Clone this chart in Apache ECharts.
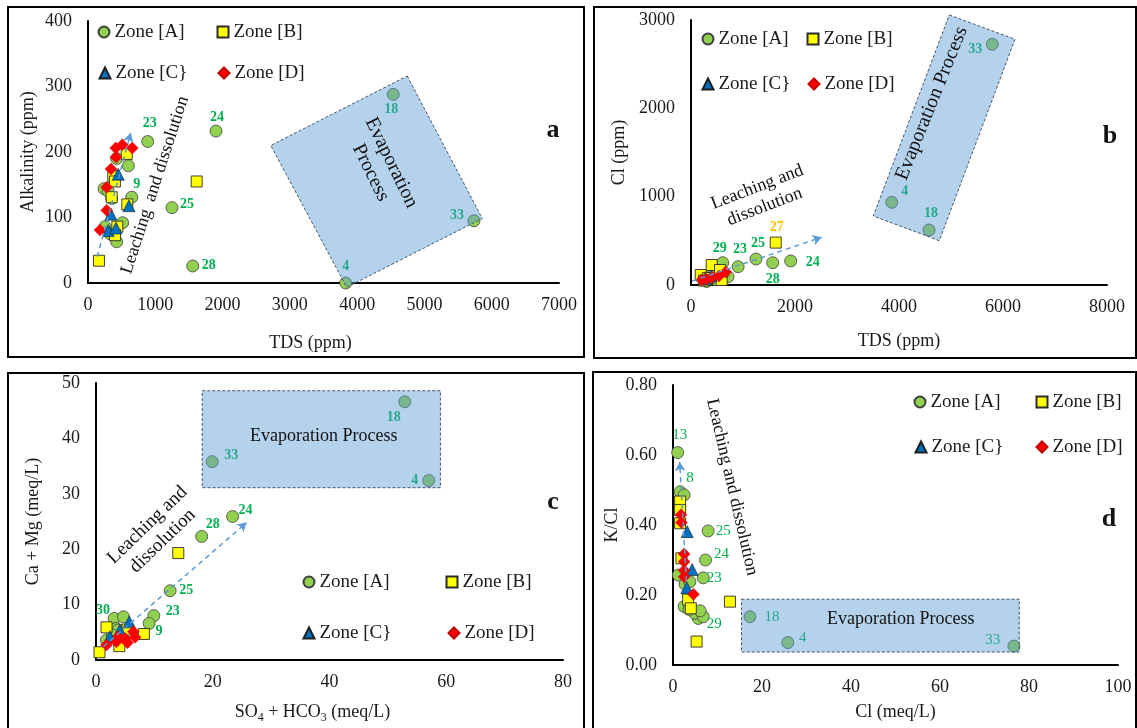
<!DOCTYPE html>
<html>
<head>
<meta charset="utf-8">
<script src="https://cdn.jsdelivr.net/npm/echarts@6/dist/echarts.min.js"></script>
<style>
  html, body { margin: 0; padding: 0; background: #fff; }
  #chart { width: 1137px; height: 728px; }
</style>
</head>
<body>
<div id="chart"></div>
<script>
// ---------- data ----------
const ZONES = ['Zone [A]', 'Zone [B]', 'Zone [C}', 'Zone [D]'];

// (a) TDS (ppm) vs Alkalinity (ppm); third entry = sample number shown on the chart
const alkZoneA = [[887,216,'23'],[1902,232,'24'],[650,131,'9'],[1248,115,'25'],[1556,26,'28'],
  [4537,288,'18'],[5736,95,'33'],[3830,0,'4'],
  [600,179],[426,190],[238,144],[352,129],[515,92],[426,63],[253,86],[330,75],[300,140]];
const alkZoneB = [[163,34],[1615,155],[575,197],[376,163],[400,155],[352,131],[584,120],[436,86],[401,73]];
const alkZoneC = [[450,166],[340,105],[609,118],[302,80],[416,84]];
const alkZoneD = [[178,81],[278,111],[278,146],[342,174],[416,192],[412,206],[510,211],[658,206]];

// (b) TDS (ppm) vs Cl (ppm)
const clZoneA = [[610,252,'29'],[906,207,'23'],[1250,294,'25'],[1571,252,'28'],[1917,272,'24'],
  [3860,936,'4'],[4577,623,'18'],[5794,2725,'33'],
  [712,94],[480,60],[300,40],[620,130],[400,110]];
const clZoneB = [[1629,480,'27'],[398,226],[187,113],[558,170],[590,57],[330,80],[250,50]];
const clZoneC = [[385,102],[269,68]];
const clZoneD = [[206,57],[302,65],[410,87],[538,102],[667,147]];

// (c) SO4 + HCO3 (meq/L) vs Ca + Mg (meq/L)
const caMgZoneA = [[19.9,35.8,'33'],[23.4,25.9,'24'],[18.1,22.3,'28'],[12.7,12.5,'25'],[9.9,8.0,'23'],
  [9.1,6.6,'9'],[3.1,7.5,'30'],[52.9,46.6,'18'],[57.0,32.4,'4'],
  [4.7,7.8],[1.8,3.6],[3.5,5.7],[3.8,5.4],[2.8,4.5]];
const caMgZoneB = [[14.1,19.3],[0.6,1.4],[1.8,5.9],[8.2,4.7],[4.0,2.5],[5.4,5.5]];
const caMgZoneC = [[5.7,6.9],[4.1,5.4],[2.4,4.2]];
const caMgZoneD = [[1.8,2.7],[3.5,3.3],[3.8,4.2],[5.0,3.9],[5.4,3.1],[6.4,5.1],[6.7,4.1]];

// (d) Cl (meq/L) vs K/Cl
const kClZoneA = [[1.05,0.607,'13'],[1.6,0.495,'8'],[7.9,0.383,'25'],[7.3,0.300,'24'],[6.8,0.249,'23'],
  [5.7,0.133,'29'],[17.3,0.138,'18'],[25.8,0.064,'4'],[76.6,0.054,'33'],
  [2.5,0.486],[4.9,0.148],[6.8,0.138],[6.1,0.155],[2.5,0.167],[3.6,0.159],[1.2,0.257],[2.7,0.231],[3.8,0.238]];
const kClZoneB = [[12.8,0.181],[5.3,0.067],[1.6,0.467],[1.6,0.443],[1.6,0.405],[1.9,0.305],[3.4,0.187],[4.0,0.162]];
const kClZoneC = [[3.2,0.381],[4.3,0.273],[3.1,0.221]];
const kClZoneD = [[1.8,0.429],[1.9,0.407],[2.5,0.317],[2.5,0.295],[2.5,0.270],[2.5,0.252],[4.6,0.202]];

// axis ranges and tick steps
const xTicksA = {min: 0, max: 7000, interval: 1000};
const yTicksA = {min: 0, max: 400, interval: 100};
const xTicksB = {min: 0, max: 8000, interval: 2000};
const yTicksB = {min: 0, max: 3000, interval: 1000};
const xTicksC = {min: 0, max: 80, interval: 20};
const yTicksC = {min: 0, max: 50, interval: 10};
const xTicksD = {min: 0, max: 100, interval: 20};
const yTicksD = {min: 0, max: 0.8, interval: 0.2};

// process annotations in data coordinates
const evapBoxA = [[4744,316],[5860,98.6],[3845,-6.5],[2716,210]];
const evapBoxB = [[4967,3057],[6231,2782],[4775,502],[3506,781]];
const evapBoxC = [[18.2,48.6],[59.0,48.6],[59.0,31.1],[18.2,31.1]];
const evapBoxD = [[15.4,0.188],[77.8,0.188],[77.8,0.037],[15.4,0.037]];
const evapTextA = [4354,176];
const evapTextB = [4629,2057];
const evapTextC = [39.0,40.4];
const evapTextD = [51.2,0.131];
const leachArrowA = [[138,40],[634,229]];
const leachArrowB = [[20,45],[2513,540]];
const leachArrowC = [[1.25,2.4],[25.8,24.8]];
const leachArrowD = [[3.0,0.24],[1.5,0.58]];

// ---------- styling ----------
const SERIF = '"Liberation Serif", "Times New Roman", serif';
const INK = '#1a1a1a';
const ZONE_STYLE = {
  'Zone [A]': {symbol: 'circle', size: 12, color: '#92D050', border: '#3f3f3f', bw: 0.8, icon: 'circle'},
  'Zone [B]': {symbol: 'rect', size: 11, color: '#FFFF00', border: '#2b2b2b', bw: 0.9, icon: 'rect'},
  'Zone [C}': {symbol: 'triangle', size: 12, color: '#0070C0', border: '#1f1f1f', bw: 0.6, icon: 'triangle'},
  'Zone [D]': {symbol: 'diamond', size: 12, color: '#FF0000', border: '#c00000', bw: 0.4, icon: 'diamond'}
};

// label offsets (px, from the marker centre)
const labelOffsetA = {'23':[2,-18],'24':[1,-14],'9':[5,-13],'25':[15,-3],'28':[16,-1],'18':[-2,15],'33':[-17,-5],'4':[0,-17]};
const labelOffsetB = {'29':[-3,-14],'23':[2,-17],'25':[2,-16],'28':[0,17],'24':[22,1],'27':[1,-15],'4':[13,-11],'18':[2,-17],'33':[-17,5]};
const labelOffsetC = {'30':[-11,-8],'23':[19,-4],'9':[10,8],'25':[16,0],'28':[11,-12],'24':[13,-6],'33':[19,-6],'18':[-11,16],'4':[-14,0]};
const labelOffsetD = {'13':[2,-17],'8':[10,-14],'25':[15,0],'24':[16,-6],'23':[11,0],'29':[16,6],'18':[22,0],'4':[15,-5],'33':[-21,-6]};

const boldLabel = {fontFamily: SERIF, fontSize: 14, fontWeight: 'bold', color: '#00B050'};
const plainLabel = {fontFamily: SERIF, fontSize: 15, fontWeight: 'normal', color: '#00B050'};

function zoneSeries(name, pts, gi, offsets, lblStyle, lblColor) {
  const st = ZONE_STYLE[name];
  return {
    type: 'scatter', name: name, xAxisIndex: gi, yAxisIndex: gi, z: 3,
    symbol: st.symbol, symbolSize: st.size,
    itemStyle: {color: st.color, borderColor: st.border, borderWidth: st.bw, opacity: 1},
    emphasis: {disabled: true},
    data: pts.map(p => {
      const item = {value: [p[0], p[1]]};
      if (p[2]) {
        item.label = Object.assign({}, lblStyle, {
          show: true, formatter: p[2], position: 'inside', offset: offsets[p[2]] || [0, -14]
        }, lblColor ? {color: lblColor} : {});
      }
      return item;
    })
  };
}

function boxSeries(gi, corners, textAt, text, rotDeg, fontSize) {
  return {
    type: 'custom', xAxisIndex: gi, yAxisIndex: gi, z: 5, silent: true, clip: false,
    data: [[corners[0][0], corners[0][1]]],
    encode: {x: 0, y: 1},
    renderItem: function (params, api) {
      const pts = corners.map(c => api.coord(c));
      const tp = api.coord(textAt);
      return {
        type: 'group',
        children: [
          {type: 'polygon', shape: {points: pts},
           style: {fill: 'rgba(91,155,213,0.45)', stroke: '#44546A', lineWidth: 1, lineDash: [3, 2]}},
          {type: 'text', x: tp[0], y: tp[1], rotation: rotDeg * Math.PI / 180,
           style: {text: text, font: fontSize + 'px ' + SERIF, fill: '#111', lineHeight: fontSize + 3,
                   align: 'center', verticalAlign: 'middle', textAlign: 'center', textVerticalAlign: 'middle'}}
        ]
      };
    }
  };
}

function arrowSeries(gi, seg) {
  return {
    type: 'scatter', xAxisIndex: gi, yAxisIndex: gi, z: 4, silent: true, data: [],
    markLine: {
      silent: true, animation: false, symbol: ['none', 'arrow'], symbolSize: [8, 9],
      label: {show: false},
      lineStyle: {color: '#5B9BD5', type: [5, 4], width: 1.5},
      emphasis: {disabled: true},
      data: [[{coord: seg[0]}, {coord: seg[1]}]]
    }
  };
}

function valueAxis(gi, ticks, isX, extra) {
  return Object.assign({
    type: 'value', gridIndex: gi, min: ticks.min, max: ticks.max, interval: ticks.interval,
    axisLine: {show: true, onZero: false, lineStyle: {color: '#000', width: 2}},
    axisTick: {show: false},
    splitLine: {show: false},
    axisLabel: {color: INK, fontFamily: SERIF, fontSize: 18, margin: isX ? 13 : 16,
                formatter: v => String(v)},
    nameLocation: 'middle',
    nameTextStyle: {color: INK, fontFamily: SERIF, fontSize: 18}
  }, extra);
}

// legend positions: marker centre of each item, per panel
const legendSpots = [
  [[103,32],[222,32],[104,73],[223,73]],
  [[707,39],[812,39],[707,84],[813,84]],
  [[308,582],[451,582],[308,633],[453,633]],
  [[919,402],[1041,402],[920,447],[1041,447]]
];
const legends = [];
legendSpots.forEach(spots => {
  spots.forEach((s, k) => {
    legends.push({
      left: s[0] - 5.5, top: s[1] - 10, padding: 0, itemGap: 0,
      itemWidth: 11, itemHeight: 11, selectedMode: false,
      data: [{name: ZONES[k], icon: ZONE_STYLE[ZONES[k]].icon}],
      textStyle: {fontFamily: SERIF, fontSize: 19, color: INK, lineHeight: 20}
    });
  });
});

const series = [
  zoneSeries(ZONES[0], alkZoneA, 0, labelOffsetA, boldLabel),
  zoneSeries(ZONES[1], alkZoneB, 0, labelOffsetA, boldLabel),
  zoneSeries(ZONES[2], alkZoneC, 0, labelOffsetA, boldLabel),
  zoneSeries(ZONES[3], alkZoneD, 0, labelOffsetA, boldLabel),
  zoneSeries(ZONES[0], clZoneA, 1, labelOffsetB, boldLabel),
  zoneSeries(ZONES[1], clZoneB, 1, labelOffsetB, boldLabel, '#FFC000'),
  zoneSeries(ZONES[2], clZoneC, 1, labelOffsetB, boldLabel),
  zoneSeries(ZONES[3], clZoneD, 1, labelOffsetB, boldLabel),
  zoneSeries(ZONES[0], caMgZoneA, 2, labelOffsetC, boldLabel),
  zoneSeries(ZONES[1], caMgZoneB, 2, labelOffsetC, boldLabel),
  zoneSeries(ZONES[2], caMgZoneC, 2, labelOffsetC, boldLabel),
  zoneSeries(ZONES[3], caMgZoneD, 2, labelOffsetC, boldLabel),
  zoneSeries(ZONES[0], kClZoneA, 3, labelOffsetD, plainLabel),
  zoneSeries(ZONES[1], kClZoneB, 3, labelOffsetD, plainLabel),
  zoneSeries(ZONES[2], kClZoneC, 3, labelOffsetD, plainLabel),
  zoneSeries(ZONES[3], kClZoneD, 3, labelOffsetD, plainLabel),
  boxSeries(0, evapBoxA, evapTextA, 'Evaporation\nProcess', -64, 20),
  boxSeries(1, evapBoxB, evapTextB, 'Evaporation Process', 68, 20),
  boxSeries(2, evapBoxC, evapTextC, 'Evaporation Process', 0, 18),
  boxSeries(3, evapBoxD, evapTextD, 'Evaporation Process', 0, 18),
  arrowSeries(0, leachArrowA),
  arrowSeries(1, leachArrowB),
  arrowSeries(2, leachArrowC),
  arrowSeries(3, leachArrowD)
];

function note(x, y, text, rotDeg, size, weight) {
  return {
    type: 'text', x: x, y: y, z: 50, rotation: (rotDeg || 0) * Math.PI / 180, silent: true,
    style: {text: text, font: (weight || 'normal') + ' ' + size + 'px ' + SERIF, fill: '#111',
            lineHeight: size + 3, align: 'center', verticalAlign: 'middle',
            textAlign: 'center', textVerticalAlign: 'middle'}
  };
}
function frame(x, y, w, h) {
  return {type: 'rect', z: 40, silent: true, shape: {x: x, y: y, width: w, height: h},
          style: {fill: 'none', stroke: '#000', lineWidth: 2}};
}

const option = {
  animation: false,
  backgroundColor: '#fff',
  grid: [
    {left: 88, top: 21, width: 471, height: 262},
    {left: 691, top: 20, width: 416, height: 265},
    {left: 96, top: 383, width: 467, height: 277},
    {left: 673, top: 385, width: 445, height: 280}
  ],
  xAxis: [
    valueAxis(0, xTicksA, true, {name: 'TDS (ppm)', nameGap: 51,
      nameTextStyle: {color: INK, fontFamily: SERIF, fontSize: 18, padding: [0, 26, 0, 0]}}),
    valueAxis(1, xTicksB, true, {name: 'TDS (ppm)', nameGap: 47}),
    valueAxis(2, xTicksC, true, {name: '{n|SO}{s|4}{n| + HCO}{s|3}{n| (meq/L)}', nameGap: 43,
      nameTextStyle: {color: INK, fontFamily: SERIF, fontSize: 18, padding: [0, 34, 0, 0],
        rich: {
          n: {fontFamily: SERIF, fontSize: 18, color: INK, lineHeight: 18, verticalAlign: 'top'},
          s: {fontFamily: SERIF, fontSize: 12, color: INK, lineHeight: 12, verticalAlign: 'top', padding: [9, 0, 0, 0]}
        }}}),
    valueAxis(3, xTicksD, true, {name: 'Cl (meq/L)', nameGap: 38})
  ],
  yAxis: [
    valueAxis(0, yTicksA, false, {name: 'Alkalinity (ppm)', nameGap: 51}),
    valueAxis(1, yTicksB, false, {name: 'Cl (ppm)', nameGap: 63}),
    valueAxis(2, yTicksC, false, {name: 'Ca + Mg (meq/L)', nameGap: 54}),
    valueAxis(3, yTicksD, false, {name: 'K/Cl', nameGap: 44,
      axisLabel: {color: INK, fontFamily: SERIF, fontSize: 18, margin: 16, formatter: v => v.toFixed(2)}})
  ],
  legend: legends,
  series: series,
  graphic: [
    frame(8, 7, 576, 350),
    frame(594, 7, 542, 351),
    frame(8, 373, 576, 370),
    frame(593, 372, 543, 370),
    note(155, 185, 'Leaching  and dissolution', 72, 18),
    note(761, 197, 'Leaching and\ndissolution', 21, 18),
    note(155, 533, 'Leaching and\ndissolution', 44, 19),
    note(732, 487, 'Leaching and dissolution', -77, 18),
    note(553, 130, 'a', 0, 26, 'bold'),
    note(1110, 136, 'b', 0, 26, 'bold'),
    note(553, 502, 'c', 0, 26, 'bold'),
    note(1109, 519, 'd', 0, 26, 'bold')
  ]
};

const chart = echarts.init(document.getElementById('chart'), null, {renderer: 'canvas'});
chart.setOption(option);
</script>
</body>
</html>
